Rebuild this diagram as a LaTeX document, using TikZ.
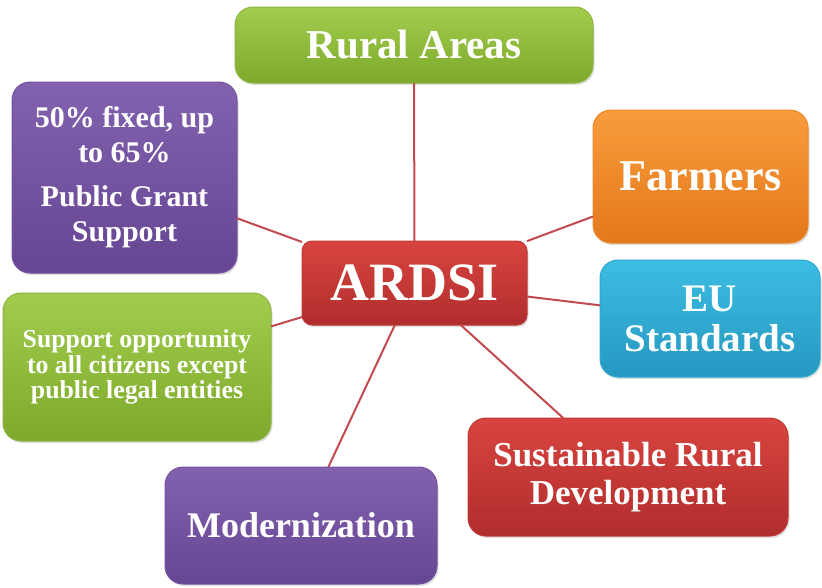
\documentclass[tikz,border=0pt]{standalone}
\usepackage{fontspec}
\setmainfont{Liberation Serif}
\usetikzlibrary{shadows}

\definecolor{greenTop}{HTML}{A2CC4E}
\definecolor{greenBot}{HTML}{7DAA2C}
\definecolor{greenEdge}{HTML}{8DB33E}
\definecolor{purpleTop}{HTML}{8261AE}
\definecolor{purpleBot}{HTML}{664592}
\definecolor{purpleEdge}{HTML}{7452A0}
\definecolor{orangeTop}{HTML}{F89C3C}
\definecolor{orangeBot}{HTML}{E4781C}
\definecolor{orangeEdge}{HTML}{EB8A2C}
\definecolor{blueTop}{HTML}{3CBDE2}
\definecolor{blueBot}{HTML}{2698C2}
\definecolor{blueEdge}{HTML}{2EA9D2}
\definecolor{redTop}{HTML}{D8443F}
\definecolor{redBot}{HTML}{B02D2D}
\definecolor{redEdge}{HTML}{C03937}
\definecolor{spokeRed}{HTML}{C24A4E}

\tikzset{
    % --- Rounded topic box (shaded, white bold text) ---
    topic box/.style = {
        rectangle, rounded corners=18pt, line width=1pt,
        text=white, align=center, inner sep=0pt, outer sep=0pt,
        font=\bfseries,
        drop shadow={shadow xshift=1.5pt, shadow yshift=-2pt, opacity=0.25}
    },
    % --- Colour variants ---
    green box/.style = {
        topic box, top color=greenTop, bottom color=greenBot, draw=greenEdge
    },
    purple box/.style = {
        topic box, top color=purpleTop, bottom color=purpleBot, draw=purpleEdge
    },
    orange box/.style = {
        topic box, top color=orangeTop, bottom color=orangeBot, draw=orangeEdge
    },
    blue box/.style = {
        topic box, top color=blueTop, bottom color=blueBot, draw=blueEdge
    },
    red box/.style = {
        topic box, top color=redTop, bottom color=redBot, draw=redEdge
    },
    % --- Central hub ---
    hub/.style = {
        red box, rounded corners=10pt
    },
    % --- Spoke from hub to topic ---
    spoke/.style = {
        draw=spokeRed, line width=2pt
    }
}

\begin{document}
\begin{tikzpicture}[x=1pt, y=-1pt]

\useasboundingbox (0,0) rectangle (822,587);

% ---------------------------------------------------------
% Central hub
% ---------------------------------------------------------
\node[hub, minimum width=225pt, minimum height=84pt,
      font=\bfseries\fontsize{54}{54}\selectfont] (ARDSI) at (414.5, 283) {ARDSI};

% ---------------------------------------------------------
% Topic boxes (around the hub)
% ---------------------------------------------------------
\node[green box, minimum width=358pt, minimum height=76pt,
      font=\bfseries\fontsize{41}{41}\selectfont] (Rural) at (414, 45) {Rural Areas};

\node[purple box, minimum width=225pt, minimum height=191pt,
      font=\bfseries\fontsize{30}{35}\selectfont] (Grant) at (124.5, 177.5) {%
    50\% fixed, up\\
    to 65\%\\[9pt]
    Public Grant\\
    Support
};

\node[orange box, minimum width=215pt, minimum height=133pt,
      font=\bfseries\fontsize{44}{44}\selectfont] (Farmers) at (700.5, 176.5) {Farmers};

\node[blue box, minimum width=220pt, minimum height=117pt,
      font=\bfseries\fontsize{39}{40}\selectfont] (EU) at (710, 318.5) {%
    EU\\
    Standards
};

\node[green box, minimum width=268pt, minimum height=148pt,
      font=\bfseries\fontsize{25.8}{25.5}\selectfont] (Citizens) at (137, 367) {%
    Support opportunity\\
    to all citizens except\\
    public legal entities
};

\node[red box, minimum width=320pt, minimum height=118pt,
      font=\bfseries\fontsize{35}{38}\selectfont] (Sustain) at (628, 477) {%
    Sustainable Rural\\
    Development
};

\node[purple box, minimum width=272pt, minimum height=117pt,
      font=\bfseries\fontsize{36}{36}\selectfont] (Modern) at (301, 525.5) {Modernization};

% ---------------------------------------------------------
% Spokes
% ---------------------------------------------------------
\foreach \topic in {Rural, Grant, Farmers, EU, Citizens, Sustain, Modern}
    \draw[spoke] (ARDSI) -- (\topic);

\end{tikzpicture}
\end{document}
